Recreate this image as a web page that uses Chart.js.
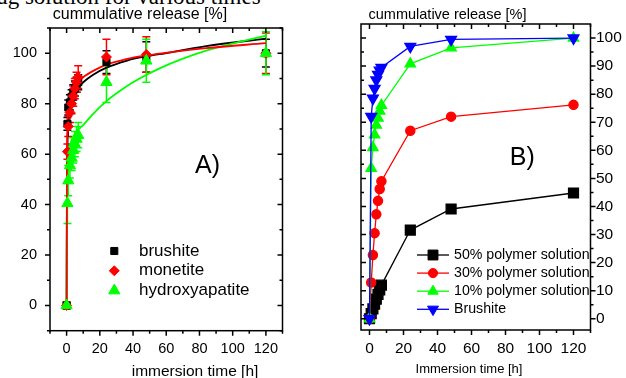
<!DOCTYPE html>
<html>
<head>
<meta charset="utf-8">
<script src="https://cdn.jsdelivr.net/npm/chart.js@4/dist/chart.umd.min.js"></script>
<style>
  body { margin: 0; background: #fff; width: 626px; height: 378px; overflow: hidden; position: relative; }
  #capt { position: absolute; left: -23px; top: -15px; font-family: "Liberation Serif", serif; font-size: 23px; line-height: 23px; white-space: nowrap; }
  #chartA { position: absolute; left: 0; top: 0; }
  #chartB { position: absolute; left: 313px; top: 0; }
</style>
</head>
<body>
<div id="capt">drug solution for various times</div>
<canvas id="chartA" width="313" height="378"></canvas>
<canvas id="chartB" width="313" height="378"></canvas>
<script>
// Teil A: Freisetzung aus den Zementen (Messwerte mit Fehlerbalken)
const timesA = [0, 0.5, 1, 2, 3, 4, 5, 6, 7, 24, 48, 120];
const brushite = [0, 72, 78.5, 80.5, 82.5, 84.5, 86, 87.5, 88.5, 96.5, 98.5, 100];
const brushiteErr = [1, 2.5, 3, 3, 3, 3, 3, 3, 3, 4.5, 6, 5.5];
const monetite = [0, 61, 71, 76.5, 80, 83, 86, 88.5, 90.5, 98.5, 99.5, 100];
const monetiteErr = [1.5, 3, 4, 4, 4, 4, 4, 4, 4.5, 7, 7, 8];
const hydroxyapatite = [0, 40.5, 49.5, 55.5, 58.5, 61.5, 64, 66, 67.5, 88.5, 97, 100];
const hydroxyapatiteErr = [1, 8, 6, 5, 5, 5, 5, 5, 5, 8, 8.5, 8.5];

// Teil A: Fitkurven
const fitTimes = [0, 0.2, 0.5, 1, 2, 4, 6, 10, 16, 24, 32, 40, 56, 84, 120];
const fitBrushite = [0, 45, 63, 73, 79, 83.5, 85.5, 88.5, 91.5, 94.3, 96.2, 97.8, 99.6, 102.8, 105.8];
const fitMonetite = [0, 55, 70, 77, 82, 86, 88, 90.5, 93, 95.5, 97, 98.3, 99.8, 102, 104];
const fitHydroxyapatite = [0, 35, 50, 57, 63, 67, 69, 71.5, 76, 81, 85, 88.5, 94, 101, 107];

// Teil B: Polymerlösungen
const timesB = [0, 1, 2, 3, 4, 5, 6, 7, 24, 48, 120];
const poly50 = [0, 1.8, 3.5, 5.2, 7, 8.7, 10.3, 12, 31.6, 39.1, 44.8];
const poly30 = [0, 12.9, 22.7, 30.5, 37.2, 42, 46.2, 49, 67, 72, 76.2];
const poly10 = [0, 53.6, 61, 65.5, 69, 71.5, 74, 76, 90.8, 96.5, 100];
const brushiteB = [0, 72, 78.5, 82, 85, 87, 88.5, 89.5, 97, 99.5, 100];

// Achsenbeschriftungen
const xTicks = [0, 20, 40, 60, 80, 100, 120];
const xMinor = [-10, 10, 30, 50, 70, 90, 110, 130];
const yTicksA = [0, 20, 40, 60, 80, 100];
const yMinorA = [-10, 10, 30, 50, 70, 90, 110];
const yTicksB = [0, 10, 20, 30, 40, 50, 60, 70, 80, 90, 100];
const yMinorB = [5, 15, 25, 35, 45, 55, 65, 75, 85, 95];

const SANS = '"Liberation Sans", Arial, sans-serif';
const toXY = (ts, ys) => ts.map((t, i) => ({ x: t, y: ys[i] }));

function marker(ctx, ds, x, y) {
    ctx.fillStyle = ds.pointBackgroundColor;
    ctx.strokeStyle = ds.pointBorderColor;
    ctx.lineWidth = 1;
    Chart.helpers.drawPoint(ctx, {
        pointStyle: ds.pointStyle,
        rotation: ds.pointRotation || 0,
        radius: ds.pointRadius,
        borderWidth: 1
    }, x, y);
}

// Fehlerbalken unter die Punkte zeichnen
const errorBarPlugin = {
    id: 'errorBars',
    beforeDatasetsDraw(chart) {
        const ctx = chart.ctx, sx = chart.scales.x, sy = chart.scales.y;
        chart.data.datasets.forEach(ds => {
            if (!ds.errors) return;
            ctx.save();
            ctx.strokeStyle = ds.borderColor;
            ctx.lineWidth = 1.5;
            ds.data.forEach((p, j) => {
                const e = ds.errors[j];
                const x = sx.getPixelForValue(p.x);
                const y1 = sy.getPixelForValue(p.y - e), y2 = sy.getPixelForValue(p.y + e);
                ctx.beginPath();
                ctx.moveTo(x, y1); ctx.lineTo(x, y2);
                ctx.moveTo(x - 4, y1); ctx.lineTo(x + 4, y1);
                ctx.moveTo(x - 4, y2); ctx.lineTo(x + 4, y2);
                ctx.stroke();
            });
            ctx.restore();
        });
    }
};

// Rahmen, Teilstriche, Legende und Texte
const framePlugin = {
    id: 'frame',
    afterDraw(chart, args, o) {
        const ctx = chart.ctx, a = chart.chartArea;
        const sx = chart.scales.x, sy = chart.scales.y;
        ctx.save();
        (o.texts || []).forEach(t => {
            ctx.font = t.font;
            ctx.fillStyle = '#000';
            ctx.textAlign = 'center';
            ctx.textBaseline = 'middle';
            ctx.fillText(t.text, t.x, t.y);
        });
        const L = o.legend;
        L.items.forEach((idx, i) => {
            const ds = chart.data.datasets[idx];
            const y = L.y + i * L.dy;
            if (L.half) {
                ctx.strokeStyle = ds.borderColor;
                ctx.lineWidth = ds.borderWidth;
                ctx.beginPath();
                ctx.moveTo(L.x - L.half, y); ctx.lineTo(L.x + L.half, y);
                ctx.stroke();
            }
            marker(ctx, ds, L.x, y);
            ctx.font = L.font;
            ctx.fillStyle = '#000';
            ctx.textAlign = 'left';
            ctx.textBaseline = 'middle';
            ctx.fillText(ds.label, L.tx, y);
        });

        ctx.strokeStyle = '#000';
        ctx.lineWidth = 1.5;
        ctx.strokeRect(a.left, a.top, a.right - a.left, a.bottom - a.top);
        ctx.beginPath();
        const xt = (vals, len) => vals.forEach(v => {
            const px = sx.getPixelForValue(v);
            if (px < a.left - 0.5 || px > a.right + 0.5) return;
            ctx.moveTo(px, a.bottom); ctx.lineTo(px, a.bottom + len * o.bottom);
            ctx.moveTo(px, a.top); ctx.lineTo(px, a.top - len * o.top);
        });
        const yt = (vals, len) => vals.forEach(v => {
            const py = sy.getPixelForValue(v);
            if (py < a.top - 0.5 || py > a.bottom + 0.5) return;
            ctx.moveTo(a.left, py); ctx.lineTo(a.left - len * o.left, py);
            ctx.moveTo(a.right, py); ctx.lineTo(a.right + len * o.right, py);
        });
        xt(xTicks, 5); xt(xMinor, 3);
        yt(o.yMajor, 5); yt(o.yMinor, 3);
        ctx.stroke();
        ctx.restore();
    }
};

function fixedTicks(vals) {
    return scale => { scale.ticks = vals.map(v => ({ value: v })); };
}

const noGrid = { display: false, drawTicks: false };

// Diagramm A
new Chart(document.getElementById('chartA'), {
    type: 'line',
    data: {
        datasets: [
            { label: 'brushite', data: toXY(timesA, brushite), errors: brushiteErr, showLine: false,
              pointStyle: 'rect', pointRadius: 5, borderColor: '#000', backgroundColor: '#000',
              pointBackgroundColor: '#000', pointBorderColor: '#000', order: 2 },
            { label: 'monetite', data: toXY(timesA, monetite), errors: monetiteErr, showLine: false,
              pointStyle: 'rectRot', pointRadius: 5, borderColor: '#ff0000', backgroundColor: '#ff0000',
              pointBackgroundColor: '#ff0000', pointBorderColor: '#ff0000', order: 1 },
            { label: 'hydroxyapatite', data: toXY(timesA, hydroxyapatite), errors: hydroxyapatiteErr, showLine: false,
              pointStyle: 'triangle', pointRadius: 6.5, borderColor: '#00ff00', backgroundColor: '#00ff00',
              pointBackgroundColor: '#00ff00', pointBorderColor: '#00ff00', order: 0 },
            { label: 'fit brushite', data: toXY(fitTimes, fitBrushite), pointRadius: 0, borderWidth: 1.8,
              borderColor: '#000', cubicInterpolationMode: 'monotone', order: 5 },
            { label: 'fit monetite', data: toXY(fitTimes, fitMonetite), pointRadius: 0, borderWidth: 1.8,
              borderColor: '#ff0000', cubicInterpolationMode: 'monotone', order: 3 },
            { label: 'fit hydroxyapatite', data: toXY(fitTimes, fitHydroxyapatite), pointRadius: 0, borderWidth: 1.8,
              borderColor: '#00ff00', cubicInterpolationMode: 'monotone', order: 4 }
        ]
    },
    options: {
        responsive: false,
        animation: false,
        layout: { padding: { top: 28, right: 30.5, left: 0, bottom: 0 } },
        scales: {
            x: {
                type: 'linear', min: -10, max: 130,
                afterBuildTicks: fixedTicks(xTicks),
                afterFit: s => { s.height = 47.3; },
                grid: noGrid, border: { display: false },
                ticks: { color: '#000', font: { family: SANS, size: 14.5 }, padding: 10, maxRotation: 0 }
            },
            y: {
                min: -10, max: 110,
                afterBuildTicks: fixedTicks(yTicksA),
                afterFit: s => { s.width = 50; },
                grid: noGrid, border: { display: false },
                ticks: { color: '#000', font: { family: SANS, size: 14.5 }, padding: 13 }
            }
        },
        plugins: {
            legend: { display: false },
            tooltip: { enabled: false },
            frame: {
                left: 1, bottom: 1, top: -1, right: -1,
                yMajor: yTicksA, yMinor: yMinorA,
                texts: [
                    { text: 'cummulative release [%]', x: 140, y: 15, font: '16px ' + SANS },
                    { text: 'immersion time [h]', x: 195, y: 372, font: '15.5px ' + SANS },
                    { text: 'A)', x: 207.5, y: 166, font: '25px ' + SANS }
                ],
                legend: { items: [0, 1, 2], x: 114.3, y: 251, dy: 19.8, tx: 139, half: 0, font: '17px ' + SANS }
            }
        }
    },
    plugins: [errorBarPlugin, framePlugin]
});

// Diagramm B
const lineSet = (label, ys, color, style, r, rot, order) => ({
    label: label, data: toXY(timesB, ys), borderColor: color, backgroundColor: color,
    pointBackgroundColor: color, pointBorderColor: color, borderWidth: 1.3,
    pointStyle: style, pointRadius: r, pointRotation: rot, order: order
});

new Chart(document.getElementById('chartB'), {
    type: 'line',
    data: {
        datasets: [
            lineSet('50% polymer solution', poly50, '#000', 'rect', 7, 0, 3),
            lineSet('30% polymer solution', poly30, '#ff0000', 'circle', 4.6, 0, 2),
            lineSet('10% polymer solution', poly10, '#00ff00', 'triangle', 6, 0, 1),
            lineSet('Brushite', brushiteB, '#0000ff', 'triangle', 6.3, 180, 0)
        ]
    },
    options: {
        responsive: false,
        animation: false,
        layout: { padding: { top: 24, right: 0, left: 48, bottom: 0 } },
        scales: {
            x: {
                type: 'linear', min: -5, max: 130,
                afterBuildTicks: fixedTicks(xTicks),
                afterFit: s => { s.height = 48; },
                grid: noGrid, border: { display: false },
                ticks: { color: '#000', font: { family: SANS, size: 15.5 }, padding: 9, maxRotation: 0 }
            },
            y: {
                position: 'right', min: -4, max: 105,
                afterBuildTicks: fixedTicks(yTicksB),
                afterFit: s => { s.width = 35.5; },
                grid: noGrid, border: { display: false },
                ticks: { color: '#000', font: { family: SANS, size: 15.5 }, padding: 5.5 }
            }
        },
        plugins: {
            legend: { display: false },
            tooltip: { enabled: false },
            frame: {
                left: -1, bottom: 1, top: -1, right: 1,
                yMajor: yTicksB, yMinor: yMinorB,
                texts: [
                    { text: 'cummulative release [%]', x: 134.5, y: 15, font: '14.5px ' + SANS },
                    { text: 'Immersion time [h]', x: 156, y: 369, font: '13px ' + SANS },
                    { text: 'B)', x: 209.3, y: 158, font: '25px ' + SANS }
                ],
                legend: { items: [0, 1, 2, 3], x: 120, y: 255, dy: 18.1, tx: 141, half: 16, font: '14.2px ' + SANS }
            }
        }
    },
    plugins: [framePlugin]
});
</script>
</body>
</html>
